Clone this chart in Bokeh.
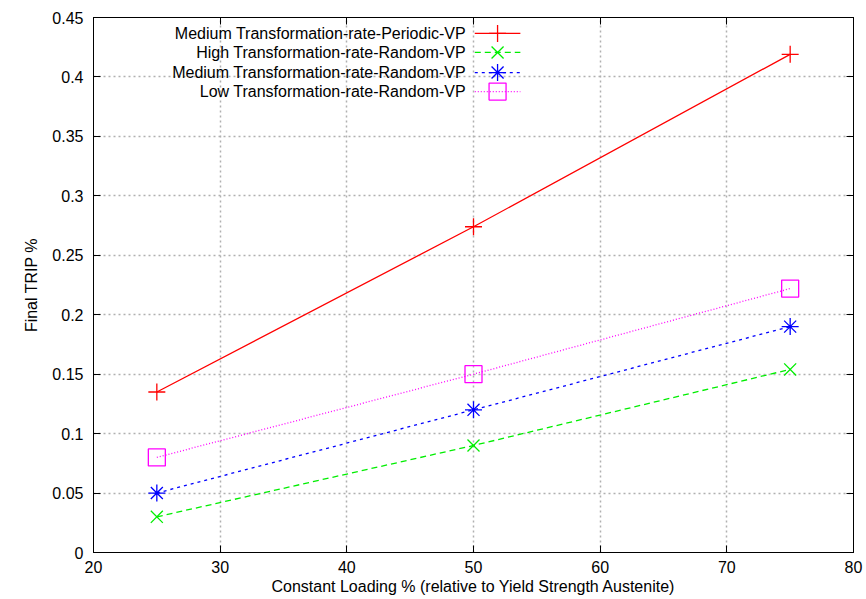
from bokeh.plotting import figure
from bokeh.models import LinearAxis, FixedTicker, Range1d, ColumnDataSource, Title
from bokeh.core.properties import value
from bokeh.embed import file_html
from bokeh.resources import INLINE

loading = [25, 50, 75]
series_names = [
    "Medium Transformation-rate-Periodic-VP",
    "High Transformation-rate-Random-VP",
    "Medium Transformation-rate-Random-VP",
    "Low Transformation-rate-Random-VP",
]
med_periodic = [0.135, 0.274, 0.419]
high_random = [0.030, 0.090, 0.154]
med_random = [0.050, 0.120, 0.190]
low_random = [0.080, 0.150, 0.222]
series_values = [med_periodic, high_random, med_random, low_random]

x_ticks = [20, 30, 40, 50, 60, 70, 80]
y_ticks = [0, 0.05, 0.1, 0.15, 0.2, 0.25, 0.3, 0.35, 0.4, 0.45]
y_tick_labels = ["0", "0.05", "0.1", "0.15", "0.2", "0.25", "0.3", "0.35", "0.4", "0.45"]
x_title = "Constant Loading % (relative to Yield Strength Austenite)"
y_title = "Final TRIP %"

colors = ["#ff0000", "#00ee00", "#0000ff", "#ff00ff"]
dashes = ["solid", "6 4", "3 4", "1 2"]
markers = ["cross", "x", "asterisk", "square"]

FONT = "Liberation Sans"
FS = "16px"

p = figure(width=866, height=599, output_backend="svg", toolbar_location=None,
           x_range=Range1d(20, 80), y_range=Range1d(0, 0.45),
           min_border_left=93, min_border_right=13, min_border_top=17, min_border_bottom=47)
p.background_fill_color = "white"
p.border_fill_color = "white"
p.outline_line_color = "black"
p.outline_line_width = 1

p.xaxis.ticker = FixedTicker(ticks=x_ticks)
p.yaxis.ticker = FixedTicker(ticks=y_ticks)
p.yaxis.major_label_overrides = {t: l for t, l in zip(y_ticks, y_tick_labels)}
p.yaxis.axis_label = y_title

for ax in [p.xaxis[0], p.yaxis[0]]:
    ax.major_tick_in = 7
    ax.major_tick_out = 0
    ax.minor_tick_line_color = None
    ax.axis_line_color = "black"
    ax.major_tick_line_color = "black"
    ax.major_label_text_font = FONT
    ax.major_label_text_font_size = FS
    ax.major_label_text_color = "black"
    ax.axis_label_text_font = FONT
    ax.axis_label_text_font_size = FS
    ax.axis_label_text_font_style = "normal"
    ax.axis_label_text_color = "black"
p.yaxis.major_label_standoff = 10
p.xaxis.major_label_standoff = 8
p.yaxis.axis_label_standoff = 9

# x-axis title placed below the tick labels
p.add_layout(Title(text=x_title, align="center", text_font=FONT, text_font_size=FS,
                   text_font_style="normal", text_color="black", standoff=0, offset=0), "below")

for loc, ticks in [("right", y_ticks), ("above", x_ticks)]:
    ax = LinearAxis(ticker=FixedTicker(ticks=ticks), major_label_text_font_size="0px",
                    major_tick_in=7, major_tick_out=0, minor_tick_line_color=None,
                    major_label_standoff=0, axis_line_color="black")
    ax.major_label_text_color = None
    p.add_layout(ax, loc)

p.xgrid.grid_line_color = "#b0b0b0"
p.ygrid.grid_line_color = "#b0b0b0"
p.xgrid.grid_line_dash = "2 3"
p.ygrid.grid_line_dash = "2 3"
p.xgrid.grid_line_width = 1.5
p.ygrid.grid_line_width = 1.5

for vals, c, d, m in zip(series_values, colors, dashes, markers):
    src = ColumnDataSource(dict(x=loading, y=vals))
    p.line("x", "y", source=src, line_color=c, line_dash=d, line_width=1.3)
    p.scatter("x", "y", source=src, marker=m, size=17, line_color=c, fill_color=None, line_width=1.3)

# legend (labels right-aligned, sample on the right), positioned in data space
leg_text_x = 49.4
leg_line_x0, leg_line_x1 = 50.1, 53.7
leg_mark_x = 51.9
leg_rows = [0.4366, 0.4206, 0.4037, 0.3877]
p.text(x=[leg_text_x] * 4, y=leg_rows, text=series_names, text_align="right",
       text_baseline="middle", text_font=value(FONT), text_font_size=FS, text_color="black")
for yy, c, d, m in zip(leg_rows, colors, dashes, markers):
    p.line([leg_line_x0, leg_line_x1], [yy, yy], line_color=c, line_dash=d, line_width=1.3)
    p.scatter([leg_mark_x], [yy], marker=m, size=17, line_color=c, fill_color=None, line_width=1.3)

open("out.html", "w").write(file_html(p, INLINE))
